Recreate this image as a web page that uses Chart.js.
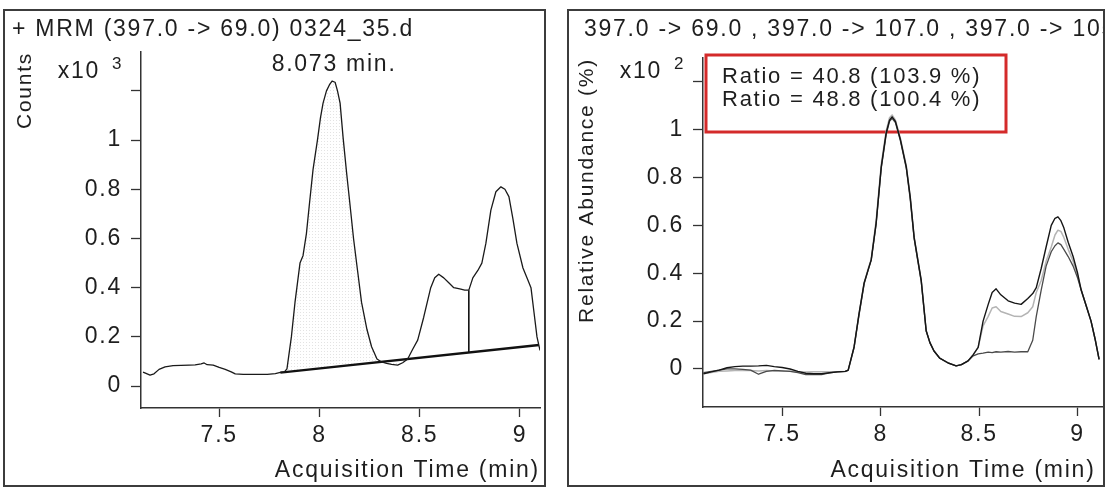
<!DOCTYPE html>
<html><head><meta charset="utf-8">
<script src="https://cdn.jsdelivr.net/npm/chart.js@4.4.1/dist/chart.umd.min.js"></script>
<style>
html,body{margin:0;padding:0;background:#fff;width:1107px;height:490px;overflow:hidden;}
.panel{position:absolute;border:2px solid #3c3c3c;overflow:hidden;background:#fff;}
#p1{left:3px;top:9px;width:539px;height:474px;}
#p2{left:567px;top:9px;width:534px;height:474px;}
#c1{position:absolute;left:-5px;top:-11px;}
#c2{position:absolute;left:-17px;top:-11px;}
</style></head><body>
<div class="panel" id="p1"><canvas id="c1" width="548" height="490"></canvas></div>
<div class="panel" id="p2"><canvas id="c2" width="700" height="490"></canvas></div>
<script>
// ---------------- data: left panel (Counts x10^3) ----------------
const leftTitle = '+ MRM (397.0 -> 69.0) 0324_35.d';
const leftTime = [7.12,7.135,7.155,7.175,7.20,7.23,7.27,7.31,7.35,7.38,7.41,7.425,7.44,7.47,7.50,7.53,7.56,7.58,7.62,7.68,7.74,7.78,7.805,7.825,7.838,7.86,7.878,7.903,7.918,7.935,7.95,7.968,7.99,8.005,8.018,8.035,8.05,8.063,8.078,8.09,8.103,8.118,8.135,8.152,8.17,8.19,8.21,8.237,8.26,8.287,8.31,8.335,8.36,8.39,8.415,8.44,8.465,8.49,8.52,8.555,8.575,8.595,8.62,8.645,8.67,8.70,8.725,8.745,8.765,8.79,8.81,8.83,8.855,8.88,8.905,8.925,8.945,8.965,8.985,9.015,9.04,9.055,9.07,9.085,9.10];
const leftCounts = [0.057,0.052,0.045,0.05,0.068,0.078,0.083,0.084,0.085,0.086,0.09,0.094,0.087,0.085,0.076,0.068,0.058,0.05,0.048,0.048,0.048,0.051,0.056,0.058,0.07,0.2,0.34,0.50,0.53,0.62,0.74,0.88,1.0,1.09,1.15,1.2,1.225,1.24,1.235,1.2,1.15,1.01,0.87,0.74,0.6,0.47,0.34,0.23,0.16,0.11,0.098,0.092,0.088,0.085,0.095,0.11,0.15,0.187,0.28,0.40,0.44,0.455,0.44,0.42,0.40,0.395,0.39,0.39,0.44,0.47,0.50,0.58,0.715,0.79,0.81,0.80,0.77,0.68,0.58,0.48,0.43,0.40,0.30,0.20,0.145];
const baselineTime = [7.805, 9.095];
const baselineCounts = [0.055, 0.167];
const splitTime = [8.745, 8.745];
const splitCounts = [0.135, 0.39];
const mainPeakRange = [7.805, 8.39];
const peakRT = 8.073;
const peakLabel = '8.073 min.';
const leftYTicks = [0, 0.2, 0.4, 0.6, 0.8, 1, 1.2];
const leftYLabels = ['0', '0.2', '0.4', '0.6', '0.8', '1', ''];
const leftExp = '3';

// ---------------- data: right panel (Relative Abundance x10^2 %) ----------------
const rightTitle = '397.0 -> 69.0 , 397.0 -> 107.0 , 397.0 -> 105.0';
const rightTime = [7.10,7.14,7.18,7.22,7.26,7.30,7.34,7.38,7.42,7.46,7.50,7.54,7.58,7.62,7.66,7.70,7.74,7.78,7.82,7.835,7.865,7.89,7.916,7.935,7.952,7.977,8.003,8.028,8.045,8.058,8.075,8.10,8.13,8.15,8.17,8.19,8.206,8.231,8.25,8.27,8.30,8.343,8.383,8.41,8.444,8.47,8.495,8.52,8.546,8.566,8.586,8.61,8.647,8.68,8.713,8.747,8.772,8.79,8.815,8.84,8.866,8.885,8.90,8.915,8.93,8.952,8.977,9.0,9.018,9.045,9.068,9.09,9.109];
const ion69 = [-0.02,-0.012,-0.005,0.005,0.01,0.012,0.012,0.013,0.015,0.01,0.006,0.0,-0.01,-0.018,-0.02,-0.02,-0.016,-0.012,-0.01,-0.005,0.092,0.23,0.36,0.41,0.456,0.61,0.845,0.987,1.04,1.054,1.035,0.96,0.845,0.72,0.55,0.45,0.37,0.16,0.11,0.076,0.045,0.025,0.013,0.018,0.034,0.06,0.09,0.2,0.27,0.32,0.335,0.31,0.285,0.275,0.27,0.295,0.315,0.34,0.42,0.51,0.6,0.63,0.636,0.62,0.59,0.53,0.47,0.4,0.33,0.26,0.2,0.12,0.04];
const ion107 = [-0.02,-0.015,-0.01,-0.008,-0.006,-0.005,-0.006,-0.008,-0.006,-0.008,-0.01,-0.01,-0.012,-0.013,-0.012,-0.012,-0.012,-0.012,-0.011,-0.006,0.09,0.23,0.36,0.415,0.46,0.62,0.855,0.995,1.05,1.062,1.04,0.965,0.85,0.72,0.55,0.45,0.37,0.16,0.11,0.076,0.045,0.025,0.013,0.018,0.034,0.06,0.09,0.18,0.22,0.255,0.26,0.24,0.23,0.22,0.219,0.235,0.26,0.32,0.37,0.45,0.51,0.56,0.58,0.575,0.55,0.5,0.45,0.39,0.33,0.26,0.2,0.12,0.04];
const ion105 = [-0.015,-0.01,-0.005,0.0,0.0,-0.002,-0.005,-0.022,-0.01,-0.006,-0.008,-0.01,-0.015,-0.024,-0.022,-0.024,-0.016,-0.012,-0.01,-0.006,0.09,0.225,0.355,0.41,0.455,0.605,0.84,0.98,1.035,1.048,1.03,0.955,0.84,0.71,0.545,0.445,0.365,0.16,0.11,0.076,0.045,0.025,0.013,0.018,0.034,0.055,0.063,0.066,0.07,0.068,0.072,0.07,0.073,0.07,0.072,0.072,0.12,0.22,0.33,0.43,0.49,0.515,0.527,0.52,0.5,0.47,0.43,0.38,0.33,0.26,0.2,0.12,0.04];
const ratioLines = ['Ratio = 40.8 (103.9 %)', 'Ratio = 48.8 (100.4 %)'];
const rightYTicks = [0, 0.2, 0.4, 0.6, 0.8, 1, 1.2];
const rightYLabels = ['0', '0.2', '0.4', '0.6', '0.8', '1', ''];
const rightExp = '2';

const xTicks = [7.5, 8, 8.5, 9];
const xTickLabels = ['7.5', '8', '8.5', '9'];

// ---------------- styling ----------------
const FONT = '"Liberation Sans", Arial, Helvetica, sans-serif';
const FS = 23;
const LS = '1.75px';
const TXT = '#1e1e1e';
const AXC = '#333';

const toXY = (xs, ys) => xs.map((x, i) => ({x, y: ys[i]}));

const spacingPlugin = {
  id: 'spacing',
  beforeUpdate(c) { c.ctx.letterSpacing = LS; },
  beforeDraw(c) { c.ctx.letterSpacing = LS; }
};

function expLabel(chart, exp, dy) {
  const {ctx, chartArea} = chart;
  ctx.save();
  ctx.fillStyle = TXT;
  ctx.textBaseline = 'middle';
  ctx.font = FS + 'px ' + FONT;
  ctx.textAlign = 'right';
  ctx.fillText('x10', chartArea.left - 41, chartArea.top + dy);
  ctx.font = '17px ' + FONT;
  ctx.textAlign = 'left';
  ctx.fillText(exp, chartArea.left - 29, chartArea.top + dy - 8);
  ctx.restore();
}

const leftExtras = {
  id: 'leftExtras',
  beforeDatasetsDraw(chart) {
    const {ctx, chartArea, scales: {x, y}} = chart;
    const b = t => baselineCounts[0] + (t - baselineTime[0]) * (baselineCounts[1] - baselineCounts[0]) / (baselineTime[1] - baselineTime[0]);
    const pc = document.createElement('canvas');
    pc.width = 3; pc.height = 3;
    const g = pc.getContext('2d');
    g.fillStyle = 'rgba(0,0,0,0.11)';
    g.fillRect(0, 0, 1, 1);
    ctx.save();
    ctx.beginPath();
    ctx.rect(chartArea.left, chartArea.top, chartArea.width, chartArea.height);
    ctx.clip();
    ctx.beginPath();
    let first = true;
    leftTime.forEach((t, i) => {
      if (t < mainPeakRange[0] || t > mainPeakRange[1]) return;
      const px = x.getPixelForValue(t), py = y.getPixelForValue(leftCounts[i]);
      if (first) { ctx.moveTo(px, py); first = false; } else ctx.lineTo(px, py);
    });
    ctx.lineTo(x.getPixelForValue(mainPeakRange[1]), y.getPixelForValue(b(mainPeakRange[1])));
    ctx.lineTo(x.getPixelForValue(mainPeakRange[0]), y.getPixelForValue(b(mainPeakRange[0])));
    ctx.closePath();
    ctx.fillStyle = ctx.createPattern(pc, 'repeat');
    ctx.fill();
    ctx.restore();
  },
  afterDraw(chart) {
    const {ctx, chartArea, scales: {x}} = chart;
    expLabel(chart, leftExp, 20);
    ctx.save();
    ctx.fillStyle = TXT;
    ctx.font = FS + 'px ' + FONT;
    ctx.textAlign = 'center';
    ctx.textBaseline = 'middle';
    ctx.fillText(peakLabel, x.getPixelForValue(peakRT), chartArea.top + 13);
    ctx.restore();
  }
};

const rightExtras = {
  id: 'rightExtras',
  beforeDatasetsDraw(chart) {
    const {ctx, chartArea} = chart;
    const bx = chartArea.left + 3, by = chartArea.top - 3, bw = 300, bh = 77;
    ctx.save();
    ctx.strokeStyle = '#d42a2a';
    ctx.lineWidth = 3;
    ctx.strokeRect(bx, by, bw, bh);
    ctx.fillStyle = TXT;
    ctx.font = '22px ' + FONT;
    ctx.textAlign = 'left';
    ctx.textBaseline = 'middle';
    ratioLines.forEach((s, i) => ctx.fillText(s, bx + 16, by + 22 + i * 23));
    ctx.restore();
  },
  afterDraw(chart) {
    expLabel(chart, rightExp, 14);
  }
};

function yScale(min, max, ticks, labels, width, titleText, titlePad) {
  return {
    type: 'linear', min, max,
    afterBuildTicks(s) { s.ticks = ticks.map(v => ({value: v})); },
    afterFit(s) { s.width = width; },
    ticks: {
      autoSkip: false, padding: 9, color: TXT,
      font: {family: FONT, size: FS},
      callback: (v, i) => labels[i]
    },
    grid: {drawOnChartArea: false, drawTicks: true, tickLength: 10, tickColor: AXC, tickWidth: 1.3},
    border: {display: true, color: AXC, width: 1.5},
    title: {display: true, text: titleText, align: 'end', color: TXT, font: {family: FONT, size: 21}, padding: {top: titlePad, bottom: 0}}
  };
}
function xScale(min, max, height, align, dash) {
  return {
    type: 'linear', min, max,
    afterBuildTicks(s) { s.ticks = xTicks.map(v => ({value: v})); },
    afterFit(s) { s.height = height; },
    ticks: {
      autoSkip: false, maxRotation: 0, padding: 5, color: TXT,
      font: {family: FONT, size: FS},
      callback: (v, i) => xTickLabels[i]
    },
    grid: {drawOnChartArea: false, drawTicks: true, tickLength: 9, tickColor: AXC, tickWidth: 1.3},
    border: {display: true, color: AXC, width: 1.6, dash: dash},
    title: {display: true, text: 'Acquisition Time (min)', align, color: TXT, font: {family: FONT, size: FS}, padding: {top: 2, bottom: 1}}
  };
}
const common = {
  responsive: false, animation: false,
  elements: {point: {radius: 0}, line: {tension: 0, borderJoinStyle: 'round'}},
};

new Chart(document.getElementById('c1'), {
  type: 'line',
  data: {datasets: [
    {data: toXY(leftTime, leftCounts), borderColor: '#1a1a1a', borderWidth: 1.3, fill: false},
    {data: toXY(baselineTime, baselineCounts), borderColor: '#111', borderWidth: 2.4, fill: false},
    {data: toXY(splitTime, splitCounts), borderColor: '#111', borderWidth: 1.6, fill: false}
  ]},
  options: Object.assign({}, common, {
    layout: {padding: {left: 12, right: 8, top: 11, bottom: 5}},
    plugins: {
      legend: {display: false}, tooltip: {enabled: false},
      title: {display: true, text: leftTitle, align: 'start', color: TXT, font: {family: FONT, size: FS, weight: 'normal'}, padding: {top: 5, bottom: 8.4}}
    },
    scales: {
      x: xScale(7.11, 9.10, 77, 'end', [12, 3, 3, 3]),
      y: yScale(-0.089, 1.358, leftYTicks, leftYLabels, 129, 'Counts', 1)
    }
  }),
  plugins: [spacingPlugin, leftExtras]
});

new Chart(document.getElementById('c2'), {
  type: 'line',
  data: {datasets: [
    {data: toXY(rightTime, ion69), borderColor: '#151515', borderWidth: 1.4, fill: false},
    {data: toXY(rightTime, ion105), borderColor: '#4a4a4a', borderWidth: 1.3, fill: false},
    {data: toXY(rightTime, ion107), borderColor: '#b4b4b4', borderWidth: 1.5, fill: false}
  ]},
  options: Object.assign({}, common, {
    layout: {padding: {left: 32, right: 29, top: 11, bottom: 5}},
    plugins: {
      legend: {display: false}, tooltip: {enabled: false},
      title: {display: true, text: rightTitle, align: 'start', color: TXT, font: {family: FONT, size: FS, weight: 'normal'}, padding: {top: 5, bottom: 14.4}}
    },
    scales: {
      x: xScale(7.098, 9.738, 78, 'center', []),
      y: yScale(-0.159, 1.30, rightYTicks, rightYLabels, 119, 'Relative Abundance (%)', -9.5)
    }
  }),
  plugins: [spacingPlugin, rightExtras]
});
</script>
</body></html>
